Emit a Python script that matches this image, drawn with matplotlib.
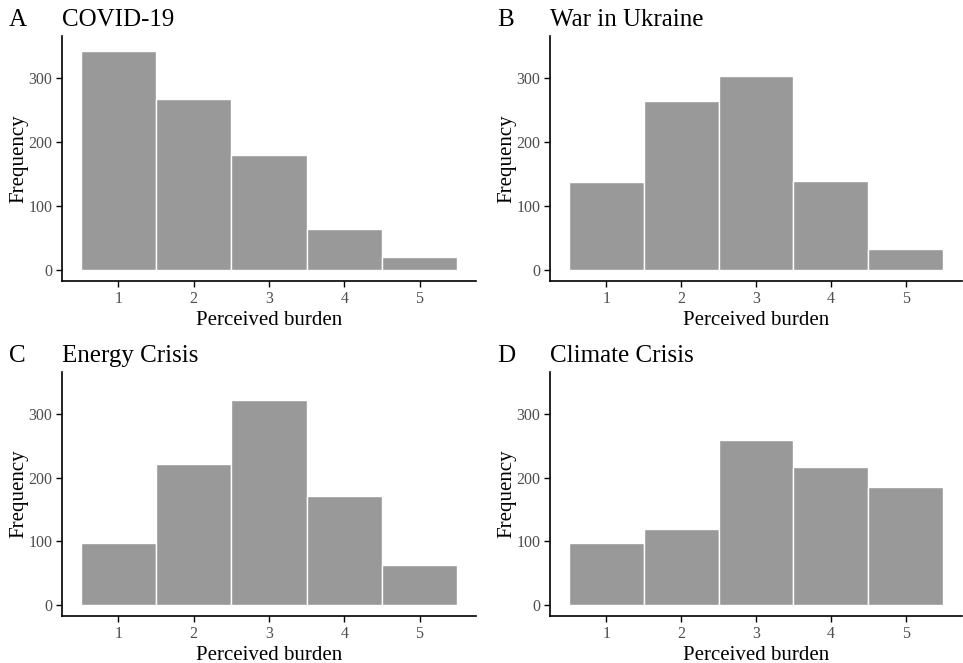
import matplotlib
matplotlib.use("Agg")
import matplotlib.pyplot as plt

plt.rcParams['font.family'] = ['Liberation Serif', 'DejaVu Serif']

categories = [1, 2, 3, 4, 5]
titles = ["COVID-19", "War in Ukraine", "Energy Crisis", "Climate Crisis"]
tags = ["A", "B", "C", "D"]
covid = [343, 268, 180, 65, 20]
ukraine = [137, 265, 303, 140, 33]
energy = [98, 221, 322, 172, 63]
climate = [98, 119, 260, 217, 186]
series = [covid, ukraine, energy, climate]

W, H = 963, 663
fig = plt.figure(figsize=(W / 100, H / 100), dpi=100)

# axes boxes in pixels: left, right, top, bottom
boxes = [(62, 476, 36, 281), (550, 962, 36, 281),
         (62, 476, 372, 616), (550, 962, 372, 616)]

for box, vals, title, tag in zip(boxes, series, titles, tags):
    l, r, t, b = box
    ax = fig.add_axes([l / W, 1 - b / H, (r - l) / W, (b - t) / H])
    ax.bar(categories, vals, width=1.0, color='#999999', edgecolor='white',
           linewidth=1.0)
    ax.set_xlim(0.25, 5.75)
    ax.set_ylim(-17, 366)
    ax.set_xticks(categories)
    ax.set_yticks([0, 100, 200, 300])
    for s in ['top', 'right']:
        ax.spines[s].set_visible(False)
    for s in ['left', 'bottom']:
        ax.spines[s].set_linewidth(1.2)
        ax.spines[s].set_color('black')
    ax.tick_params(axis='both', colors='black', labelcolor='#4d4d4d',
                   labelsize=11.5, length=4, width=1.0, pad=3)
    ax.set_xlabel("Perceived burden", fontsize=15, labelpad=3)
    ax.set_ylabel("Frequency", fontsize=15, labelpad=0)
    fig.text(l / W, 1 - (t - 10) / H, title, fontsize=18,
             ha='left', va='baseline')
    fig.text((l - 53) / W, 1 - (t - 10) / H, tag, fontsize=18,
             ha='left', va='baseline')

fig.savefig("out.png", dpi=100)
